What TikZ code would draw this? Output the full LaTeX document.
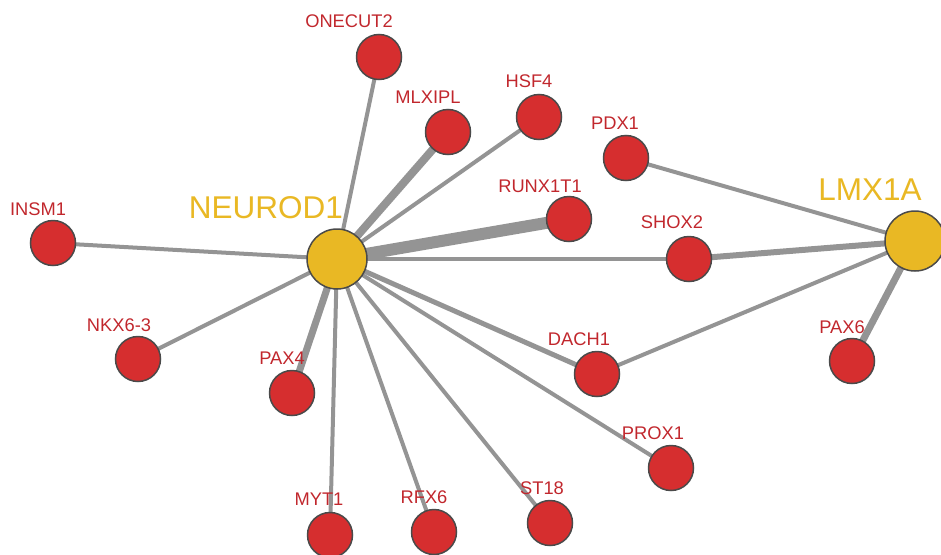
\documentclass[tikz,border=0pt]{standalone}
\usepackage{fontspec}
\setmainfont{Liberation Sans}
\usetikzlibrary{backgrounds}
\definecolor{gr}{HTML}{D62E2F}
\definecolor{grtext}{HTML}{C1272D}
\definecolor{hub}{HTML}{E9B824}
\definecolor{eg}{HTML}{949494}
\definecolor{rim}{HTML}{4A4A4A}
\tikzset{
gene/.style={circle,fill=gr,draw=rim,line width=1.5pt,minimum size=45pt,inner sep=0pt},
hubgene/.style={circle,fill=hub,draw=rim,line width=1.5pt,minimum size=60pt,inner sep=0pt},
glabel/.style={text=grtext,font=\fontsize{18.3}{20}\selectfont,inner sep=0pt},
hublabel/.style={text=hub,font=\fontsize{31.5}{33}\selectfont,inner sep=0pt},
link/.style={draw=eg,line width=#1pt},
link/.default=4
}
\begin{document}
\begin{tikzpicture}[x=1pt,y=-1pt]
\useasboundingbox (0,0) rectangle (941,554);
% hubs
\node[hubgene] (neurod1) at (337,259) {};
\node[hubgene] (lmx1a) at (915,241) {};
\node[hublabel] (neurod1-l) at (266,208) {NEUROD1};
\node[hublabel] (lmx1a-l) at (870,190) {LMX1A};
% targets
\node[gene] (onecut2) at (379,57) {};
\node[gene] (mlxipl) at (448,132) {};
\node[gene] (hsf4) at (539,117) {};
\node[gene] (pdx1) at (626,158) {};
\node[gene] (runx1t1) at (569,219) {};
\node[gene] (shox2) at (689,259) {};
\node[gene] (insm1) at (53,243) {};
\node[gene] (nkx63) at (138,359) {};
\node[gene] (pax4) at (292,393) {};
\node[gene] (dach1) at (597,374) {};
\node[gene] (pax6) at (852,361) {};
\node[gene] (prox1) at (671,468) {};
\node[gene] (myt1) at (330,535) {};
\node[gene] (rfx6) at (434,532) {};
\node[gene] (st18) at (550,523) {};
\node[glabel] (onecut2-l) at (349,21) {ONECUT2};
\node[glabel] (mlxipl-l) at (428,97) {MLXIPL};
\node[glabel] (hsf4-l) at (529,81) {HSF4};
\node[glabel] (pdx1-l) at (615,123) {PDX1};
\node[glabel] (runx1t1-l) at (540,186) {RUNX1T1};
\node[glabel] (shox2-l) at (672,222) {SHOX2};
\node[glabel] (insm1-l) at (38,209) {INSM1};
\node[glabel] (nkx63-l) at (119,325) {NKX6-3};
\node[glabel] (pax4-l) at (282,358) {PAX4};
\node[glabel] (dach1-l) at (579,339) {DACH1};
\node[glabel] (pax6-l) at (842,327) {PAX6};
\node[glabel] (prox1-l) at (653,433) {PROX1};
\node[glabel] (myt1-l) at (319,499) {MYT1};
\node[glabel] (rfx6-l) at (424,497) {RFX6};
\node[glabel] (st18-l) at (542,488) {ST18};
% edges
\begin{pgfonlayer}{background}
\foreach \t in {onecut2,hsf4,insm1,nkx63,myt1,rfx6,st18,prox1,shox2}
  \draw[link] (neurod1.center) -- (\t.center);
\draw[link=12] (neurod1.center) -- (runx1t1.center);
\draw[link=8] (neurod1.center) -- (mlxipl.center);
\draw[link=7] (neurod1.center) -- (pax4.center);
\draw[link=5] (neurod1.center) -- (dach1.center);
\draw[link] (lmx1a.center) -- (pdx1.center);
\draw[link=6] (lmx1a.center) -- (shox2.center);
\draw[link] (lmx1a.center) -- (dach1.center);
\draw[link=7] (lmx1a.center) -- (pax6.center);
\end{pgfonlayer}
\end{tikzpicture}
\end{document}
